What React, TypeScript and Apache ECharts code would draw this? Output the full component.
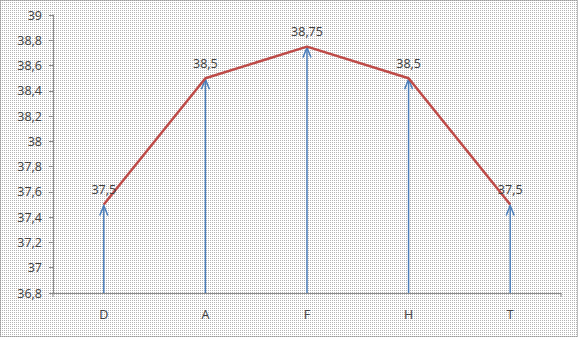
import React, { useEffect, useRef } from "react";
import * as echarts from "echarts";

const categories = ["D", "A", "F", "H", "T"];
const values = [37.5, 38.5, 38.75, 38.5, 37.5];
const yMin = 36.8;
const yMax = 39;
const yInterval = 0.2;

const fmt = (v: number) => String(Number(v.toFixed(2))).replace(".", ",");

const FONT = "Open Sans";

export default function App() {
  const ref = useRef<HTMLDivElement>(null);
  useEffect(() => {
    document.body.style.margin = "0";
    const chart = echarts.init(ref.current!, null, { renderer: "svg" });
    chart.setOption({
      animation: false,
      backgroundColor: "transparent",
      grid: { left: 53, right: 17, top: 15, bottom: 44 },
      xAxis: {
        type: "category",
        data: categories,
        boundaryGap: true,
        axisLine: { lineStyle: { color: "#8c8c8c", width: 1 } },
        axisTick: { show: true, alignWithLabel: false, length: 4, lineStyle: { color: "#8c8c8c" }, interval: (i: number) => false },
        axisLabel: { color: "#404040", fontFamily: FONT, fontSize: 12.5, margin: 15 },
      },
      yAxis: {
        type: "value",
        min: yMin,
        max: yMax,
        interval: yInterval,
        axisLine: { show: true, lineStyle: { color: "#8c8c8c", width: 1 } },
        axisTick: { show: true, length: 4, lineStyle: { color: "#8c8c8c" } },
        splitLine: { show: false },
        axisLabel: {
          color: "#404040",
          fontFamily: FONT,
          fontSize: 12.5,
          margin: 11,
          formatter: (v: number) => fmt(v),
        },
      },
      graphic: [
        {
          type: "rect",
          shape: { x: 0.5, y: 0.5, width: 577, height: 336 },
          style: { fill: null, stroke: "#7f7f7f", lineWidth: 1, lineDash: [1, 1] },
          silent: true,
        },
        {
          type: "line",
          shape: { x1: 53, y1: 293, x2: 53, y2: 297 },
          style: { stroke: "#8c8c8c", lineWidth: 1 },
        },
        {
          type: "line",
          shape: { x1: 561, y1: 293, x2: 561, y2: 297 },
          style: { stroke: "#8c8c8c", lineWidth: 1 },
        },
      ],
      series: [
        {
          type: "custom",
          data: values.map((v, i) => [i, v]),
          encode: { x: 0, y: 1 },
          z: 1,
          renderItem: (params: any, api: any) => {
            const i = api.value(0);
            const v = api.value(1);
            const top = api.coord([i, v]);
            const bot = api.coord([i, yMin]);
            const x = top[0];
            const ty = top[1] + 1;
            return {
              type: "group",
              children: [
                {
                  type: "line",
                  shape: { x1: x, y1: bot[1], x2: x, y2: ty },
                  style: { stroke: "#4a7ebb", lineWidth: 1.5 },
                },
                {
                  type: "polyline",
                  shape: { points: [[x - 4, ty + 10], [x, ty], [x + 4, ty + 10]] },
                  style: { stroke: "#4a7ebb", lineWidth: 1.5, fill: null },
                },
              ],
            };
          },
        },
        {
          type: "line",
          data: values,
          z: 3,
          symbol: "circle",
          symbolSize: 1,
          showSymbol: true,
          itemStyle: { color: "rgba(0,0,0,0)" },
          lineStyle: { color: "#be4b48", width: 2.5 },
          label: {
            show: true,
            position: "top",
            distance: 8,
            color: "#404040",
            fontFamily: FONT,
            fontSize: 12.5,
            formatter: (p: any) => fmt(p.value),
          },
        },
      ],
    });
    return () => chart.dispose();
  }, []);
  const bg =
    "url(\"data:image/svg+xml,%3Csvg xmlns='http://www.w3.org/2000/svg' width='2' height='2'%3E%3Crect width='1' height='1' fill='%23b4b4b4'/%3E%3C/svg%3E\")";
  return (
    <div
      ref={ref}
      style={{
        width: 578,
        height: 337,
        backgroundColor: "#ffffff",
        backgroundImage: bg,
        backgroundRepeat: "repeat",
      }}
    />
  );
}
